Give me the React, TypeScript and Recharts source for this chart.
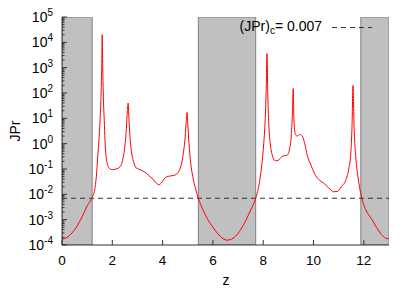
import { LineChart, Line, XAxis, YAxis, ReferenceArea, ReferenceLine } from 'recharts'

// z positions and JPr (log axis)
const zValues = [
  0, 0.2, 0.4, 0.6, 0.8, 1.0, 1.2, 1.3, 1.36, 1.43, 1.48, 1.52, 1.56, 1.58, 1.6, 1.62, 1.64, 1.68, 1.74, 1.83, 1.92,
  2.0, 2.15, 2.3, 2.42, 2.5, 2.56, 2.6, 2.63, 2.66, 2.7, 2.76, 2.84, 2.95, 3.05, 3.2, 3.35, 3.5, 3.65, 3.78, 3.85,
  3.95, 4.1, 4.25, 4.45, 4.6, 4.72, 4.82, 4.9, 4.94, 4.97, 5.0, 5.05, 5.12, 5.2, 5.3, 5.42, 5.6, 5.8, 6.0, 6.2, 6.4,
  6.56, 6.7, 6.9, 7.1, 7.3, 7.5, 7.7, 7.85, 7.95, 8.02, 8.08, 8.12, 8.15, 8.18, 8.22, 8.28, 8.36, 8.48, 8.6, 8.7,
  8.8, 8.95, 9.05, 9.12, 9.16, 9.19, 9.22, 9.27, 9.35, 9.45, 9.55, 9.65, 9.75, 9.9, 10.08, 10.25, 10.4, 10.6, 10.8,
  10.95, 11.1, 11.28, 11.4, 11.48, 11.53, 11.57, 11.61, 11.68, 11.78, 11.92, 12.1, 12.3, 12.5, 12.7, 12.85, 13.0,
]
const jprValues = [
  1.7e-4, 2.0e-4, 3.0e-4, 5.6e-4, 1.3e-3, 3.5e-3, 7.6e-3, 1.5e-2, 4.5e-2, 0.4, 2, 12, 150, 1000, 2.0e4, 1000, 100, 8, 0.4, 0.13, 0.1,
  0.095, 0.1, 0.12, 0.25, 0.8, 4, 20, 40, 10, 2, 0.5, 0.2, 0.11, 0.1, 0.085, 0.068, 0.05, 0.037, 0.026, 0.024,
  0.028, 0.045, 0.052, 0.056, 0.07, 0.125, 0.4, 2, 8, 17, 6, 1, 0.16, 0.05, 0.018, 0.007, 2.5e-3, 1e-3, 5e-4, 2.75e-4, 1.8e-4,
  1.55e-4, 1.65e-4, 2.2e-4, 4e-4, 9e-4, 2.4e-3, 7e-3, 0.03, 0.17, 1, 10, 160, 3600, 100, 6, 1, 0.35, 0.21, 0.22, 0.28,
  0.33, 0.35, 0.63, 2.5, 16, 150, 10, 2.5, 2.0, 2.3, 2.0, 1, 0.35, 0.14, 0.056, 0.035, 0.028, 0.018, 0.0126,
  0.013, 0.02, 0.036, 0.1, 0.4, 5, 200, 5, 0.3, 0.04, 0.007, 2.2e-3, 1.1e-3, 5e-4, 2.6e-4, 1.9e-4, 1.75e-4,
]
const xTicks = [0, 2, 4, 6, 8, 10, 12]
const decades = [-4, -3, -2, -1, 0, 1, 2, 3, 4, 5]
const gapBands = [
  [0, 1.2],
  [5.42, 7.7],
  [11.88, 13],
]
const criticalJPr = 0.007

const data = zValues.map((z, i) => ({ z, jpr: jprValues[i] }))
const yMajor = decades.map((d) => Math.pow(10, d))
const yTicks = [...yMajor]
decades.slice(0, -1).forEach((d) => {
  for (let m = 2; m <= 9; m++) yTicks.push(m * Math.pow(10, d))
})

const font = '"Liberation Sans", Arial, sans-serif'
const frame = '#333'

const isMajor = (v: number) => Math.abs(Math.log10(v) - Math.round(Math.log10(v))) < 1e-6

const BottomTick = ({ x, y, payload }: any) => (
  <g>
    <line x1={x} x2={x} y1={y} y2={y - 5} stroke={frame} />
    <text x={x} y={y + 19.5} textAnchor="middle" fontSize={13.5} fontFamily={font} fill="#000">
      {payload.value}
    </text>
  </g>
)

const TopTick = ({ x, y }: any) => <line x1={x} x2={x} y1={y} y2={y + 5} stroke={frame} />

const LeftTick = ({ x, y, payload }: any) => {
  const major = isMajor(payload.value)
  const exp = Math.round(Math.log10(payload.value))
  return (
    <g>
      <line x1={x} x2={x + (major ? 5 : 2.5)} y1={y} y2={y} stroke={frame} />
      {major && (
        <text x={x - 9} y={y + 5} textAnchor="end" fontSize={14} fontFamily={font} fill="#000">
          10
          <tspan dy={-6} fontSize={10}>
            {exp}
          </tspan>
        </text>
      )}
    </g>
  )
}

const RightTick = ({ x, y, payload }: any) => (
  <line x1={x} x2={x - (isMajor(payload.value) ? 5 : 2.5)} y1={y} y2={y} stroke={frame} />
)

export default function App() {
  return (
    <div style={{ position: 'absolute', left: 0, top: 0, width: 415, height: 291, background: '#fff' }}>
      <LineChart width={415} height={291} data={data} margin={{ top: 17, right: 26, bottom: 0, left: 0 }}>
        {gapBands.map(([a, b], i) => (
          <ReferenceArea key={i} x1={a} x2={b} fill="#c0c0c0" fillOpacity={1} stroke="#808080" strokeWidth={1} ifOverflow="hidden" />
        ))}
        <XAxis
          dataKey="z"
          type="number"
          domain={[0, 13]}
          ticks={xTicks}
          allowDataOverflow
          height={46}
          tickSize={0}
          tickMargin={0}
          interval={0}
          stroke={frame}
          tick={<BottomTick />}
        />
        <XAxis
          xAxisId="top"
          orientation="top"
          dataKey="z"
          type="number"
          domain={[0, 13]}
          ticks={xTicks}
          allowDataOverflow
          height={0}
          tickSize={0}
          tickMargin={0}
          interval={0}
          stroke={frame}
          tick={<TopTick />}
        />
        <YAxis
          scale="log"
          type="number"
          domain={[1e-4, 1e5]}
          ticks={yTicks}
          allowDataOverflow
          width={62}
          tickSize={0}
          tickMargin={0}
          interval={0}
          stroke={frame}
          tick={<LeftTick />}
        />
        <YAxis
          yAxisId="right"
          orientation="right"
          scale="log"
          type="number"
          domain={[1e-4, 1e5]}
          ticks={yTicks}
          allowDataOverflow
          width={0}
          tickSize={0}
          tickMargin={0}
          interval={0}
          stroke={frame}
          tick={<RightTick />}
        />
        <ReferenceLine y={criticalJPr} stroke="#333" strokeDasharray="5 4" />
        <Line
          dataKey="jpr"
          type="monotone"
          stroke="#ff0000"
          strokeWidth={1}
          dot={false}
          isAnimationActive={false}
        />
      </LineChart>
      <svg
        width={415}
        height={291}
        style={{ position: 'absolute', left: 0, top: 0, pointerEvents: 'none' }}
      >
        <text x={20} y={131} transform="rotate(-90 20 131)" textAnchor="middle" fontSize={14} fontFamily={font}>
          JPr
        </text>
        <text x={226} y={285} textAnchor="middle" fontSize={14} fontFamily={font}>
          z
        </text>
        <text x={322} y={31} textAnchor="end" fontSize={14} fontFamily={font}>
          (JPr)
          <tspan dy={3} fontSize={10}>c</tspan>
          <tspan dy={-3}>= 0.007</tspan>
        </text>
        <line x1={332} x2={372} y1={27.5} y2={27.5} stroke="#333" strokeDasharray="5 4" />
      </svg>
    </div>
  )
}
